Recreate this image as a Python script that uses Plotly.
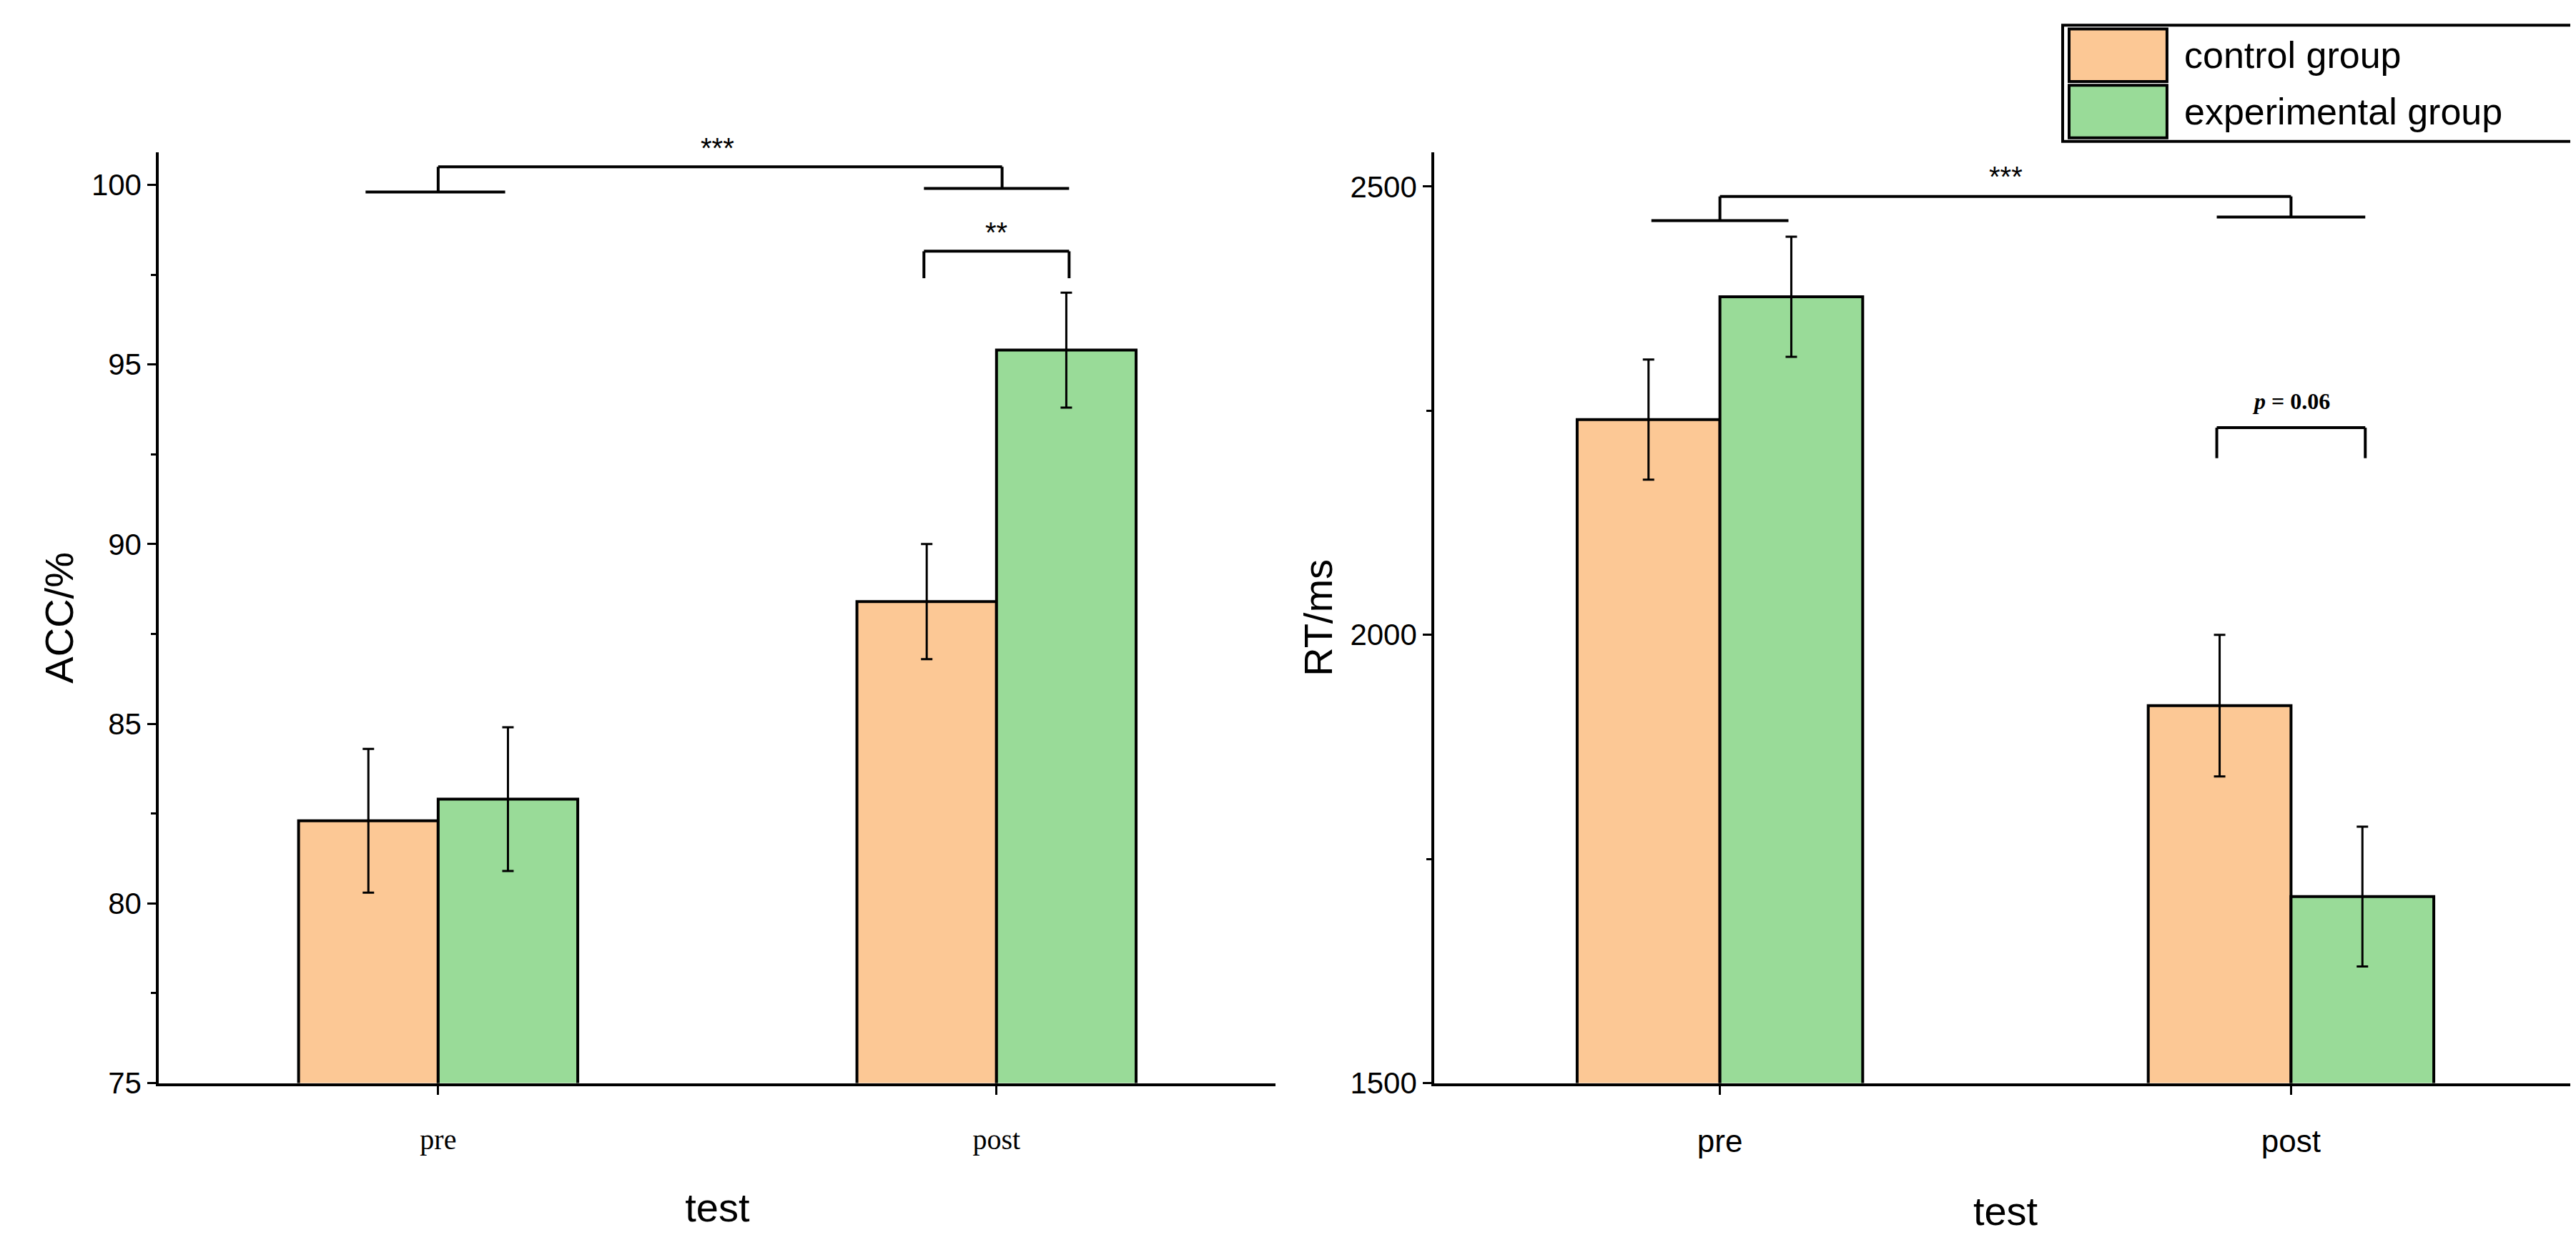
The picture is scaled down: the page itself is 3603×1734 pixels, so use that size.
import plotly.graph_objects as go
from plotly.subplots import make_subplots

# data
tests = ["pre", "post"]
groups = ["control group", "experimental group"]
acc_control = [82.3, 88.4]
acc_control_err = [2.0, 1.6]
acc_exp = [82.9, 95.4]
acc_exp_err = [2.0, 1.6]
rt_control = [2240, 1921]
rt_control_err = [67, 79]
rt_exp = [2377, 1708]
rt_exp_err = [67, 78]

orange = "#FCC895"
green = "#99DB98"
sans = "Liberation Sans"
serif = "Liberation Serif"

fig = make_subplots(rows=1, cols=2, horizontal_spacing=0.06)

for col, (c, ce, e, ee) in enumerate([(acc_control, acc_control_err, acc_exp, acc_exp_err),
                                      (rt_control, rt_control_err, rt_exp, rt_exp_err)], start=1):
    for name, vals, errs, color in [(groups[0], c, ce, orange),
                                    (groups[1], e, ee, green)]:
        fig.add_trace(go.Bar(
            x=tests, y=vals, name=name, showlegend=False,
            marker=dict(color=color, line=dict(color="black", width=4)),
            error_y=dict(type="data", array=errs, color="black", thickness=3, width=8),
        ), row=1, col=col)

line = dict(color="black", width=4)

def seg(x0, y0, x1, y1, xref, yref):
    fig.add_shape(type="line", x0=x0, y0=y0, x1=x1, y1=y1, xref=xref, yref=yref, line=line)

# left panel brackets
seg(-0.13, 99.8, 0.12, 99.8, "x", "y")
seg(0.87, 99.9, 1.13, 99.9, "x", "y")
seg(0.0, 99.8, 0.0, 100.5, "x", "y")
seg(0.0, 100.5, 1.01, 100.5, "x", "y")
seg(1.01, 100.5, 1.01, 99.9, "x", "y")
seg(0.87, 97.4, 0.87, 98.15, "x", "y")
seg(0.87, 98.15, 1.13, 98.15, "x", "y")
seg(1.13, 98.15, 1.13, 97.4, "x", "y")
fig.add_annotation(x=0.5, y=100.55, xref="x", yref="y", text="***", showarrow=False,
                   yanchor="bottom", font=dict(family=sans, size=40, color="black"))
fig.add_annotation(x=1.0, y=98.2, xref="x", yref="y", text="**", showarrow=False,
                   yanchor="bottom", font=dict(family=sans, size=40, color="black"))

# right panel brackets
seg(-0.12, 2462, 0.12, 2462, "x2", "y2")
seg(0.87, 2466, 1.13, 2466, "x2", "y2")
seg(0.0, 2462, 0.0, 2489, "x2", "y2")
seg(0.0, 2489, 1.0, 2489, "x2", "y2")
seg(1.0, 2489, 1.0, 2466, "x2", "y2")
seg(0.87, 2197, 0.87, 2231, "x2", "y2")
seg(0.87, 2231, 1.13, 2231, "x2", "y2")
seg(1.13, 2231, 1.13, 2197, "x2", "y2")
fig.add_annotation(x=0.5, y=2492, xref="x2", yref="y2", text="***", showarrow=False,
                   yanchor="bottom", font=dict(family=sans, size=40, color="black"))
fig.add_annotation(x=1.0, y=2245, xref="x2", yref="y2", text="<b><i>p</i> = 0.06</b>",
                   showarrow=False, yanchor="bottom", font=dict(family=serif, size=32, color="black"))

# legend drawn by hand (big swatches like the original)
fig.add_shape(type="rect", xref="paper", yref="paper", x0=0.7985, x1=0.998, y0=0.889, y1=0.984,
              line=dict(color="black", width=4), fillcolor="white")
for i, (name, color) in enumerate(zip(groups, [orange, green])):
    top = 0.981 - i * 0.046
    fig.add_shape(type="rect", xref="paper", yref="paper", x0=0.801, x1=0.839,
                  y0=top - 0.043, y1=top, line=dict(color="black", width=4), fillcolor=color)
    fig.add_annotation(xref="paper", yref="paper", x=0.845, y=top - 0.0215, text=name,
                       showarrow=False, xanchor="left", yanchor="middle",
                       font=dict(family=sans, size=52, color="black"))

axis_common = dict(showline=True, linecolor="black", linewidth=4, ticks="outside",
                   tickcolor="black", tickwidth=3, ticklen=12, showgrid=False, zeroline=False)

fig.update_xaxes(axis_common, range=[-0.5, 1.5], title_text="test", ticklabelstandoff=28,
                 title_standoff=55, title_font=dict(family=sans, size=56, color="black"))
fig.update_xaxes(domain=[0.0595, 0.493], tickfont=dict(family=serif, size=40, color="black"), row=1, col=1)
fig.update_xaxes(domain=[0.5546, 0.998], tickfont=dict(family=sans, size=44, color="black"), row=1, col=2)
fig.update_yaxes(axis_common, domain=[0.119, 0.88],
                 tickfont=dict(family=sans, size=42, color="black"),
                 title_font=dict(family=sans, size=56, color="black"),
                 minor=dict(ticks="outside", ticklen=7, tickcolor="black", tickwidth=3))
fig.update_yaxes(range=[75, 100.9], tickvals=[75, 80, 85, 90, 95, 100],
                 minor_dtick=2.5, title_text="ACC/%", title_standoff=8, row=1, col=1)
fig.update_yaxes(range=[1500, 2538], tickvals=[1500, 2000, 2500],
                 minor_dtick=250, title_text="RT/ms", title_standoff=8, row=1, col=2)

fig.update_layout(
    width=3603, height=1734, barmode="group", bargap=0.5, bargroupgap=0,
    plot_bgcolor="white", paper_bgcolor="white",
    margin=dict(l=0, r=0, t=0, b=0),
)

fig.write_html("out.html")
